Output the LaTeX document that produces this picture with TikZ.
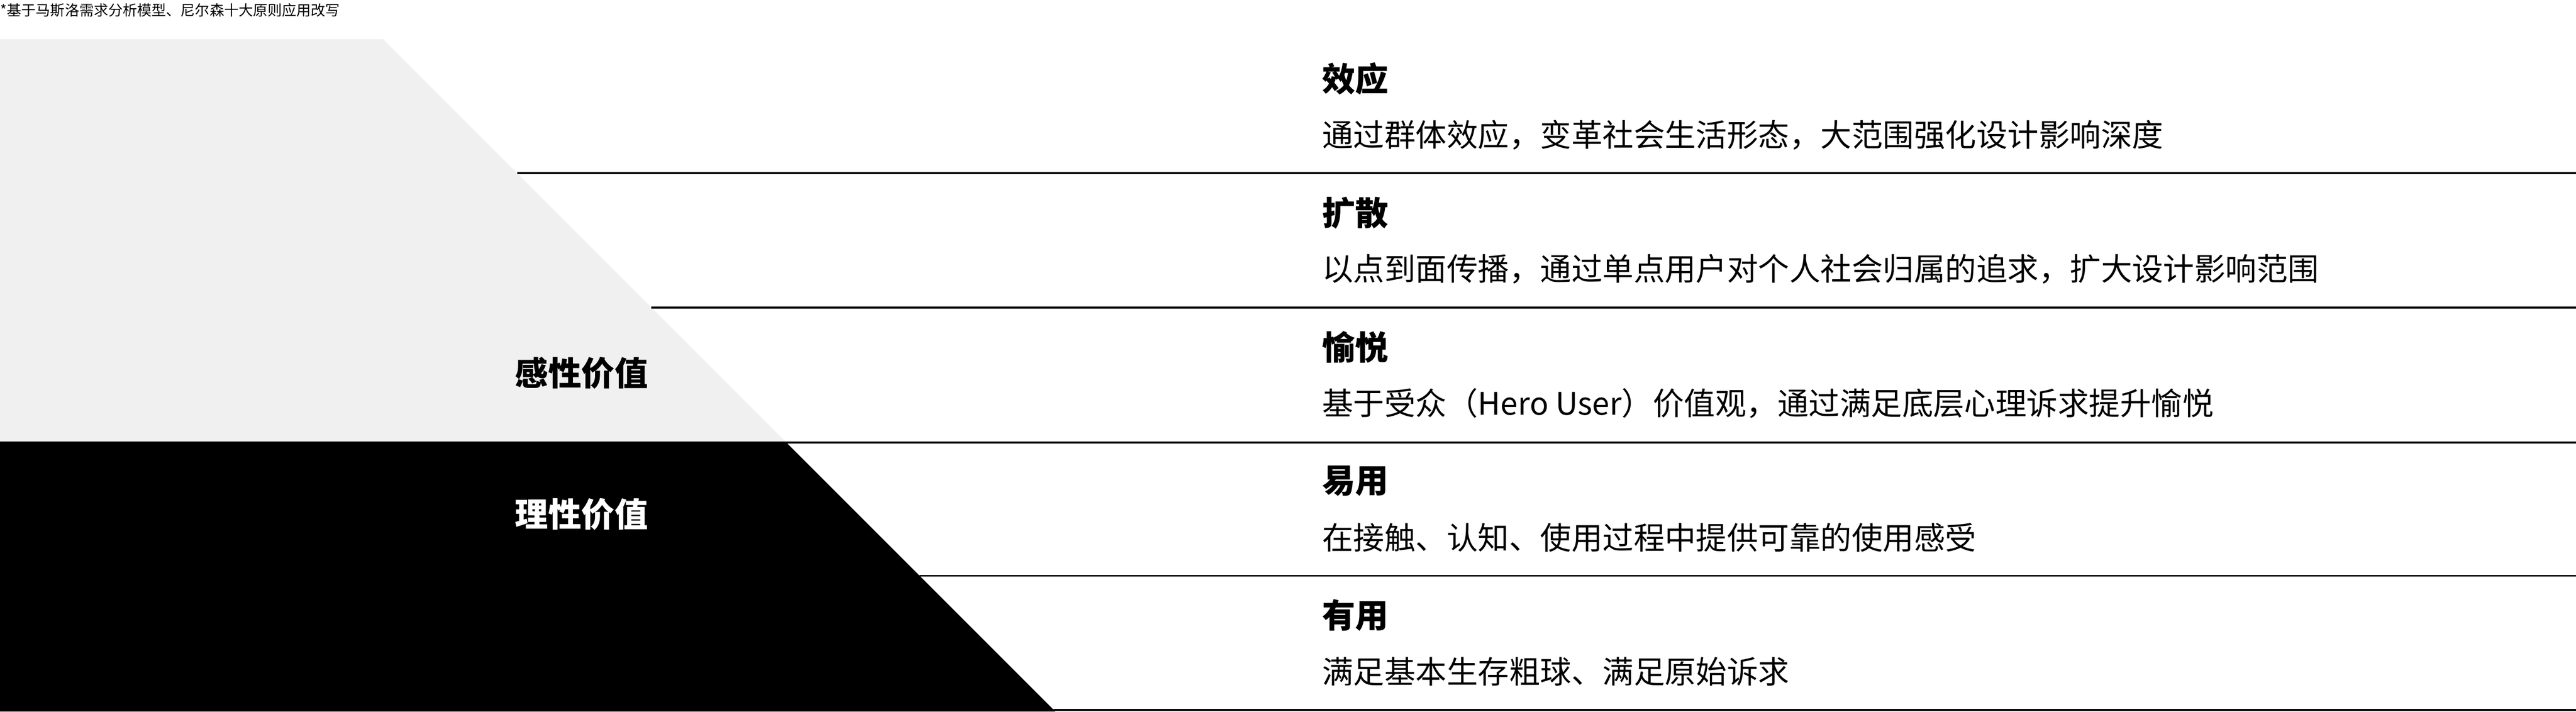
\documentclass[tikz,border=0pt]{standalone}
\usepackage{fontspec}
\setmainfont{Noto Sans CJK SC}
\usetikzlibrary{positioning}
\definecolor{layergray}{HTML}{F0F0F0}
\tikzset{
    layertitle/.style={font=\bfseries\fontsize{27.3pt}{30pt}\selectfont, anchor=west, inner sep=0pt}, % bold layer names
    layerdesc/.style={font=\fontsize{25.6pt}{28pt}\selectfont, inner sep=0pt}, % text under each name
    sidelabel/.style={font=\bfseries\fontsize{27.3pt}{30pt}\selectfont, anchor=west, inner sep=0pt},
    layerline/.style={line width=1.6pt},
    node distance=1.63cm,
}
\begin{document}
\begin{tikzpicture}
    \useasboundingbox (0,0) rectangle (74.4,20.55);
    % pyramid body
    \fill[layergray] (0,19.42) -- (11.06,19.42) -- (22.685,7.795) -- (0,7.795) -- cycle;
    \fill[black] (0,7.795) -- (22.685,7.795) -- (30.48,0) -- (0,0) -- cycle;
    % separators
    \coordinate (d1) at (14.935,15.545); \coordinate (e1) at (74.4,15.545);
    \coordinate (d2) at (18.81,11.67);   \coordinate (e2) at (74.4,11.67);
    \coordinate (d3) at (22.685,7.77);   \coordinate (e3) at (74.4,7.77);
    \coordinate (d4) at (26.56,3.92);    \coordinate (e4) at (74.4,3.92);
    \coordinate (d5) at (30.435,0.045);  \coordinate (e5) at (74.4,0.045);
    \draw[layerline] (d1) -- (e1);
    \draw[layerline] (d2) -- (e2);
    \draw[layerline] (d3) -- (e3);
    \draw[layerline] (d4) -- (e4);
    \draw[layerline] (d5) -- (e5);
    % note
    \node[anchor=west, inner sep=0pt, font=\fontsize{11.9pt}{13pt}\selectfont] (note) at (0,20.26) {*基于马斯洛需求分析模型、尼尔森十大原则应用改写};
    % side labels
    \node[sidelabel] (ganxing) at (14.87,9.78) {感性价值};
    \node[sidelabel, text=white] (lixing) at (14.87,5.69) {理性价值};
    % layers
    \node[layertitle] (xiaoying) at (38.18,18.28) {效应};
    \node[layerdesc, below=of xiaoying.west, anchor=west] (xiaoyingd) {通过群体效应，变革社会生活形态，大范围强化设计影响深度};
    \node[layertitle] (kuosan) at (38.18,14.405) {扩散};
    \node[layerdesc, below=of kuosan.west, anchor=west] (kuosand) {以点到面传播，通过单点用户对个人社会归属的追求，扩大设计影响范围};
    \node[layertitle] (yuyue) at (38.18,10.53) {愉悦};
    \node[layerdesc, below=of yuyue.west, anchor=west] (yuyued) {基于受众（Hero User）价值观，通过满足底层心理诉求提升愉悦};
    \node[layertitle] (yiyong) at (38.18,6.655) {易用};
    \node[layerdesc, below=of yiyong.west, anchor=west] (yiyongd) {在接触、认知、使用过程中提供可靠的使用感受};
    \node[layertitle] (youyong) at (38.18,2.78) {有用};
    \node[layerdesc, below=of youyong.west, anchor=west] (youyongd) {满足基本生存粗球、满足原始诉求};
\end{tikzpicture}
\end{document}
